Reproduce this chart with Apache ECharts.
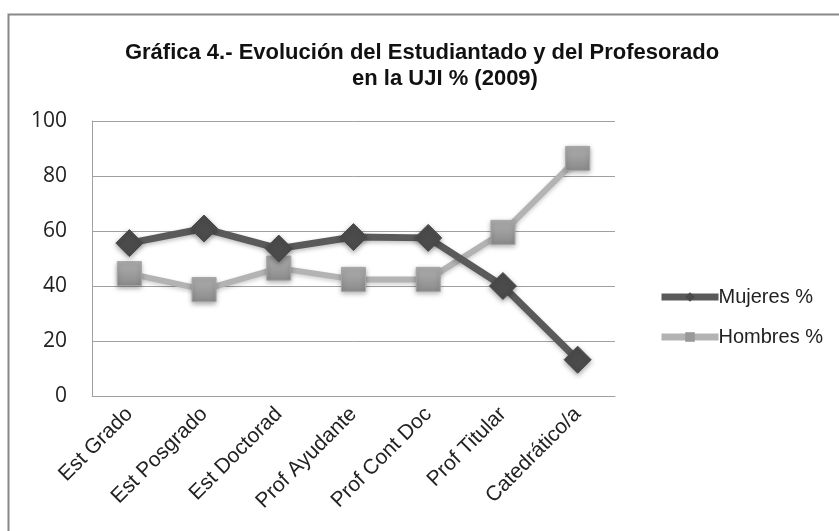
<!DOCTYPE html>
<html>
<head>
<meta charset="utf-8">
<script src="https://cdn.jsdelivr.net/npm/echarts@6/dist/echarts.min.js"></script>
<style>
html,body{margin:0;padding:0;background:#fff;}
#c{width:839px;height:531px;}
</style>
</head>
<body>
<div id="c"></div>
<script>
const titleLine1 = 'Gráfica 4.- Evolución del Estudiantado y del Profesorado';
const titleLine2 = 'en la UJI % (2009)';
const categories = ['Est Grado', 'Est Posgrado', 'Est Doctorad', 'Prof Ayudante', 'Prof Cont Doc', 'Prof Titular', 'Catedrático/a'];
const mujeres = [55.6, 60.9, 53.6, 57.8, 57.5, 40.0, 13.2];
const hombres = [44.5, 38.7, 46.5, 42.4, 42.4, 59.5, 86.4];
const yTicks = [0, 20, 40, 60, 80, 100];

const chart = echarts.init(document.getElementById('c'), null, {renderer: 'canvas'});
const font = 'Liberation Sans, Arial, sans-serif';
chart.setOption({
  backgroundColor: '#fff',
  animation: false,
  graphic: [{
    type: 'rect', left: 6, top: 12, shape: {width: 900, height: 600},
    style: {fill: 'none', stroke: '#888', lineWidth: 2}, silent: true, z: -10
  }],
  title: [{
    text: titleLine1, left: 417, top: 37, textAlign: 'center',
    textStyle: {fontFamily: font, fontWeight: 'bold', fontSize: 22, color: '#111'}
  }, {
    text: titleLine2, left: 440, top: 63, textAlign: 'center',
    textStyle: {fontFamily: font, fontWeight: 'bold', fontSize: 22, color: '#111'}
  }],
  grid: {left: 92, right: 224, top: 121, bottom: 135, containLabel: false},
  legend: {
    orient: 'vertical', left: 653, top: 282, itemWidth: 57, itemHeight: 12, itemGap: 20,
    itemStyle: {borderWidth: 0},
    lineStyle: {width: 7},
    textStyle: {fontFamily: font, fontSize: 20, color: '#222', padding: [0, 0, 0, -5]},
    data: [{name: 'Mujeres %', itemStyle: {color: '#4b4b4b'}}, {name: 'Hombres %', itemStyle: {color: '#999'}}]
  },
  xAxis: {
    type: 'category', data: categories, boundaryGap: true,
    axisLine: {lineStyle: {color: '#a0a0a0', width: 1}},
    axisTick: {show: false},
    axisLabel: {rotate: 45, margin: 15, fontFamily: font, fontSize: 21, color: '#222', interval: 0}
  },
  yAxis: {
    type: 'value', min: yTicks[0], max: yTicks[yTicks.length - 1], interval: 20,
    axisLine: {show: true, lineStyle: {color: '#a0a0a0', width: 1}},
    axisTick: {show: false},
    splitLine: {lineStyle: {color: '#a0a0a0', width: 1}},
    axisLabel: {margin: 25, fontFamily: 'Open Sans, sans-serif', fontSize: 21, color: '#222'}
  },
  series: [{
    name: 'Mujeres %', type: 'line', data: mujeres,
    symbol: 'diamond', symbolSize: 27,
    lineStyle: {color: '#5a5a5a', width: 7, shadowColor: 'rgba(0,0,0,0.25)', shadowBlur: 4, shadowOffsetY: 2},
    itemStyle: {color: '#4b4b4b', borderColor: '#4b4b4b', shadowColor: 'rgba(0,0,0,0.35)', shadowBlur: 5, shadowOffsetY: 2},
    z: 3
  }, {
    name: 'Hombres %', type: 'line', data: hombres,
    symbol: 'rect', symbolSize: 24,
    lineStyle: {color: '#b3b3b3', width: 6, shadowColor: 'rgba(0,0,0,0.2)', shadowBlur: 4, shadowOffsetY: 2},
    itemStyle: {
      color: {type: 'linear', x: 0, y: 0, x2: 0, y2: 1, colorStops: [{offset: 0, color: '#b0b0b0'}, {offset: 1, color: '#8a8a8a'}]},
      borderColor: '#a5a5a5', borderWidth: 1,
      shadowColor: 'rgba(0,0,0,0.35)', shadowBlur: 5, shadowOffsetY: 2
    },
    z: 2
  }]
});
</script>
</body>
</html>
